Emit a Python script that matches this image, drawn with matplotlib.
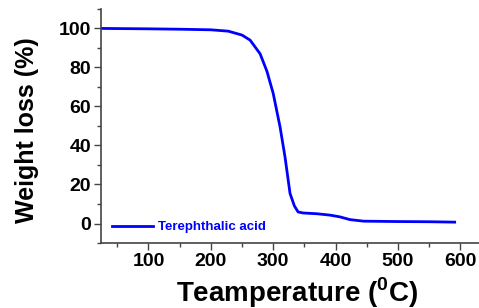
import matplotlib
matplotlib.use("Agg")
import matplotlib.pyplot as plt
from matplotlib.ticker import MultipleLocator

plt.rcParams['font.family'] = ['Liberation Sans', 'DejaVu Sans']
plt.rcParams['mathtext.fontset'] = 'custom'
plt.rcParams['mathtext.rm'] = 'Liberation Sans:bold'
plt.rcParams['mathtext.bf'] = 'Liberation Sans:bold'

# TGA curve
temp = [25, 100, 150, 200, 228, 250, 263, 271, 279, 290, 300, 311, 319, 327,
        334, 340, 348, 370, 391, 407, 423, 445, 500, 550, 591]
weight = [100, 99.8, 99.6, 99.3, 98.6, 96.6, 94, 90.5, 87, 78, 66.7, 49.5, 34,
          15.4, 9, 5.9, 5.4, 5.0, 4.3, 3.4, 2.0, 1.2, 1.0, 0.9, 0.7]
label = 'Terephthalic acid'

fig = plt.figure(figsize=(4.79, 3.08), dpi=100)
ax = fig.add_axes([0.211, 0.211, 0.789, 0.760])

ax.plot(temp, weight, color='#0000FF', lw=2, label=label)

ax.set_xlim(24, 630)
ax.set_ylim(-10, 110)
ax.set_xticks([100, 200, 300, 400, 500, 600])
ax.set_yticks([0, 20, 40, 60, 80, 100])
ax.xaxis.set_minor_locator(MultipleLocator(50))
ax.yaxis.set_minor_locator(MultipleLocator(10))

for s in ['top', 'right']:
    ax.spines[s].set_visible(False)
for s in ['left', 'bottom']:
    ax.spines[s].set_color('#444444')
    ax.spines[s].set_linewidth(1.2)

ax.tick_params(which='major', direction='out', length=5, width=1, color='#444444',
               labelsize=14, pad=2)
ax.tick_params(which='minor', direction='out', length=3, width=1, color='#444444')
for t in ax.get_xticklabels() + ax.get_yticklabels():
    t.set_fontweight('bold')

ax.set_ylabel('Weight loss (%)', fontsize=18, fontweight='bold', va='center')
ax.yaxis.set_label_coords(-0.196, 0.483)
ax.set_xlabel(r'Teamperature ($^{\mathbf{0}}$C)', fontsize=20, fontweight='bold',
              va='baseline')
ax.xaxis.set_label_coords(0.518, -0.25)

leg = ax.legend(loc='center left', bbox_to_anchor=(0.028, 0.067), frameon=False,
                borderpad=0, borderaxespad=0, handlelength=3.1, handletextpad=0.45,
                prop={'size': 9.5, 'weight': 'bold'}, labelcolor='#0000FF')

fig.savefig('out.png', dpi=100)
